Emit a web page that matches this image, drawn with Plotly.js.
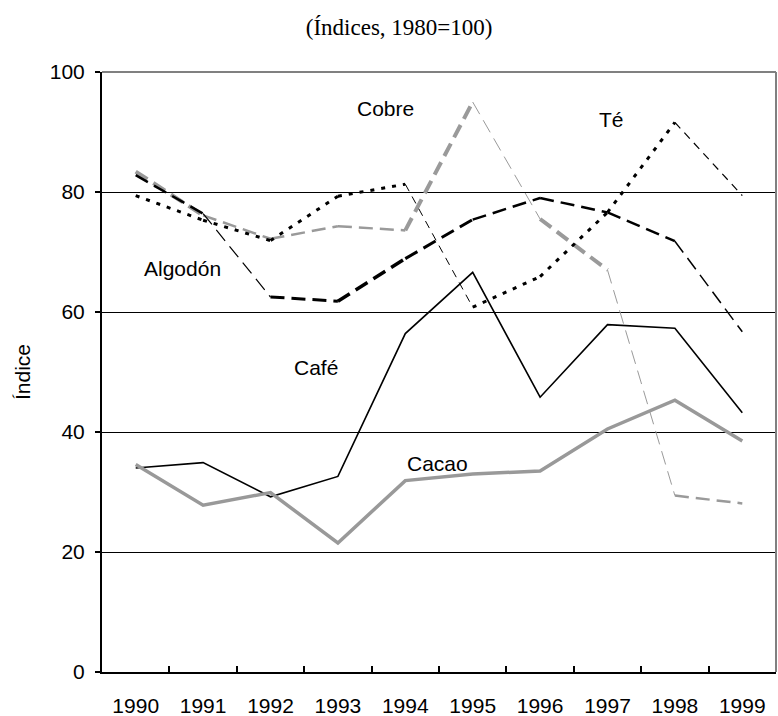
<!DOCTYPE html>
<html>
<head>
<meta charset="utf-8">
<script src="https://cdn.plot.ly/plotly-3.0.1.min.js"></script>
<style>html,body{margin:0;padding:0;background:#fff;}#chart{width:778px;height:716px;}</style>
</head>
<body>
<div id="chart"></div>
<script>
const years = ['1990','1991','1992','1993','1994','1995','1996','1997','1998','1999'];
const cafe    = [34.0, 34.9, 29.2, 32.6, 56.4, 66.6, 45.8, 57.9, 57.3, 43.2];
const cacao   = [34.6, 27.8, 29.9, 21.5, 31.9, 33.0, 33.5, 40.5, 45.3, 38.5];
const cobre   = [83.4, 76.1, 72.2, 74.3, 73.6, 95.0, 75.5, 67.0, 29.4, 28.1];
const algodon = [82.8, 76.4, 62.5, 61.8, 68.9, 75.4, 79.0, 76.6, 71.8, 56.7];
const te      = [79.4, 75.3, 71.9, 79.3, 81.3, 60.8, 65.9, 76.6, 91.6, 79.4];
const labels = ['Cobre', 'Té', 'Algodón', 'Café', 'Cacao'];

// per-segment line widths (style only)
const cobreW   = [4, 2.5, 2.5, 2.5, 4, 1, 4, 1, 2.5];
const algodonW = [2.5, 1.2, 3, 3.5, 3, 2.5, 2.5, 2.5, 1.5];
const teW      = [3, 3, 3, 3, 1, 3, 3, 3, 1.2];
const teDash   = ['4px,7px','4px,7px','4px,7px','4px,7px','8px,6px','4px,7px','4px,7px','4px,7px','8px,6px'];

const traces = [];
function addSegs(vals, color, dashes, widths) {
  for (let i = 0; i < vals.length - 1; i++) {
    traces.push({
      type: 'scatter', mode: 'lines',
      x: [years[i], years[i + 1]], y: [vals[i], vals[i + 1]],
      line: {color: color, dash: Array.isArray(dashes) ? dashes[i] : dashes, width: widths[i]},
      showlegend: false, hoverinfo: 'skip'
    });
  }
}
addSegs(cobre, '#9a9a9a', '14px,7px', cobreW);
addSegs(algodon, '#000000', '14px,7px', algodonW);
addSegs(te, '#000000', teDash, teW);
traces.push({type:'scatter', mode:'lines', x: years, y: cafe, line:{color:'#000', width:1.6}, showlegend:false, hoverinfo:'skip'});
traces.push({type:'scatter', mode:'lines', x: years, y: cacao, line:{color:'#999999', width:3.5}, showlegend:false, hoverinfo:'skip'});

const annFont = {family: 'Liberation Sans, Arial, sans-serif', size: 21, color: '#000'};
const layout = {
  width: 778, height: 716,
  margin: {l: 102, r: 2, t: 72, b: 44},
  paper_bgcolor: '#fff', plot_bgcolor: '#fff',
  title: {text: '(Índices, 1980=100)', font: {family: 'Liberation Serif, Times New Roman, serif', size: 23, color: '#000'},
          x: 0.513, xanchor: 'center', y: 0.963, yanchor: 'middle'},
  xaxis: {
    type: 'category', categoryorder: 'array', categoryarray: years, range: [-0.5, 9.5],
    tickson: 'boundaries', ticks: 'inside', ticklen: 6, tickwidth: 2, tickcolor: '#000',
    showline: true, linecolor: '#000', linewidth: 2, showgrid: false, zeroline: false,
    tickfont: {family: 'Liberation Sans, Arial, sans-serif', size: 21, color: '#000'},
    ticklabelstandoff: 14
  },
  yaxis: {
    range: [0, 100], dtick: 20, tick0: 0, ticks: 'outside', ticklen: 5, tickwidth: 2, tickcolor: '#000',
    showline: true, linecolor: '#000', linewidth: 2, showgrid: true, gridcolor: '#000', gridwidth: 1,
    zeroline: false,
    tickfont: {family: 'Liberation Sans, Arial, sans-serif', size: 21, color: '#000'},
    ticklabelstandoff: 6,
    title: {text: 'Índice', font: {family: 'Liberation Sans, Arial, sans-serif', size: 21, color: '#000'}, standoff: 13}
  },
  shapes: [
    {type: 'line', xref: 'paper', yref: 'paper', x0: 0, x1: 1, y0: 1, y1: 1, line: {color: '#808080', width: 2}},
    {type: 'line', xref: 'paper', yref: 'paper', x0: 1, x1: 1, y0: 0, y1: 1, line: {color: '#808080', width: 2}}
  ],
  annotations: [
    {x: 3.71, y: 93.9, text: labels[0], showarrow: false, font: annFont},
    {x: 7.06, y: 92.1, text: labels[1], showarrow: false, font: annFont},
    {x: 0.69, y: 67.3, text: labels[2], showarrow: false, font: annFont},
    {x: 2.68, y: 50.8, text: labels[3], showarrow: false, font: annFont},
    {x: 4.48, y: 34.7, text: labels[4], showarrow: false, font: annFont}
  ]
};
Plotly.newPlot('chart', traces, layout, {staticPlot: true, displayModeBar: false});
</script>
</body>
</html>
